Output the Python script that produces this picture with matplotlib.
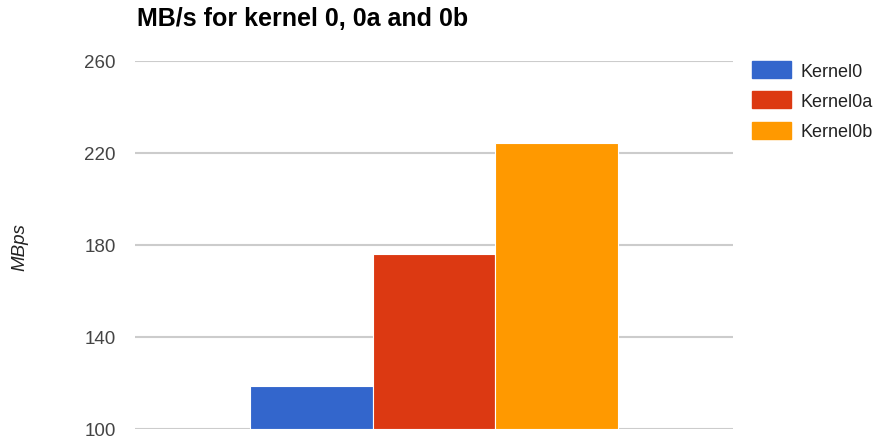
import numpy as np
import matplotlib
matplotlib.use("Agg")
import matplotlib.pyplot as plt
from matplotlib.patches import Patch

plt.rcParams['font.family'] = ['Liberation Sans', 'DejaVu Sans']

series = ["Kernel0", "Kernel0a", "Kernel0b"]
values = [118.6, 176.0, 224.2]
colors = ["#3366cc", "#dc3912", "#ff9900"]
yticks = [100, 140, 180, 220, 260]

fig = plt.figure(figsize=(8.77, 4.39), dpi=100)
ax = fig.add_axes([135/877, 1 - 430/439, 598/877, 368/439])

bar_w = 0.205
offsets = (np.arange(len(series)) - 1) * bar_w
for off, v, c in zip(offsets, values, colors):
    ax.bar(off, v - 100, bottom=100, width=bar_w, color=c,
           edgecolor="white", linewidth=0.8, zorder=3)

ax.set_xlim(-0.5, 0.5)
ax.set_ylim(100, 260)
ax.set_yticks(yticks)
ax.set_yticklabels([str(t) for t in yticks], fontsize=13.5, color="#444444")
ax.set_xticks([])
ax.tick_params(axis="y", length=0, pad=13.7)
ax.grid(axis="y", color="#cccccc", linewidth=1.5, zorder=0)
for s in ax.spines.values():
    s.set_visible(False)

fig.text(137/877, 1 - 19/439, "MB/s for kernel 0, 0a and 0b", fontsize=18,
         fontweight="bold", color="#000000", ha="left", va="center")
fig.text(20/877, 1 - 247/439, "MBps", fontsize=13.5, style="italic",
         color="#222222", rotation=90, ha="center", va="center")

handles = [Patch(facecolor=c, edgecolor=c) for c in colors]
leg = fig.legend(handles, series, loc="upper left",
                 bbox_to_anchor=(752/877, 1 - 62/439), frameon=False,
                 borderpad=0, borderaxespad=0,
                 fontsize=13, handlelength=2.16, handleheight=1.05,
                 labelspacing=0.66, handletextpad=0.5, labelcolor="#222222")

fig.savefig("out.png", dpi=100)
